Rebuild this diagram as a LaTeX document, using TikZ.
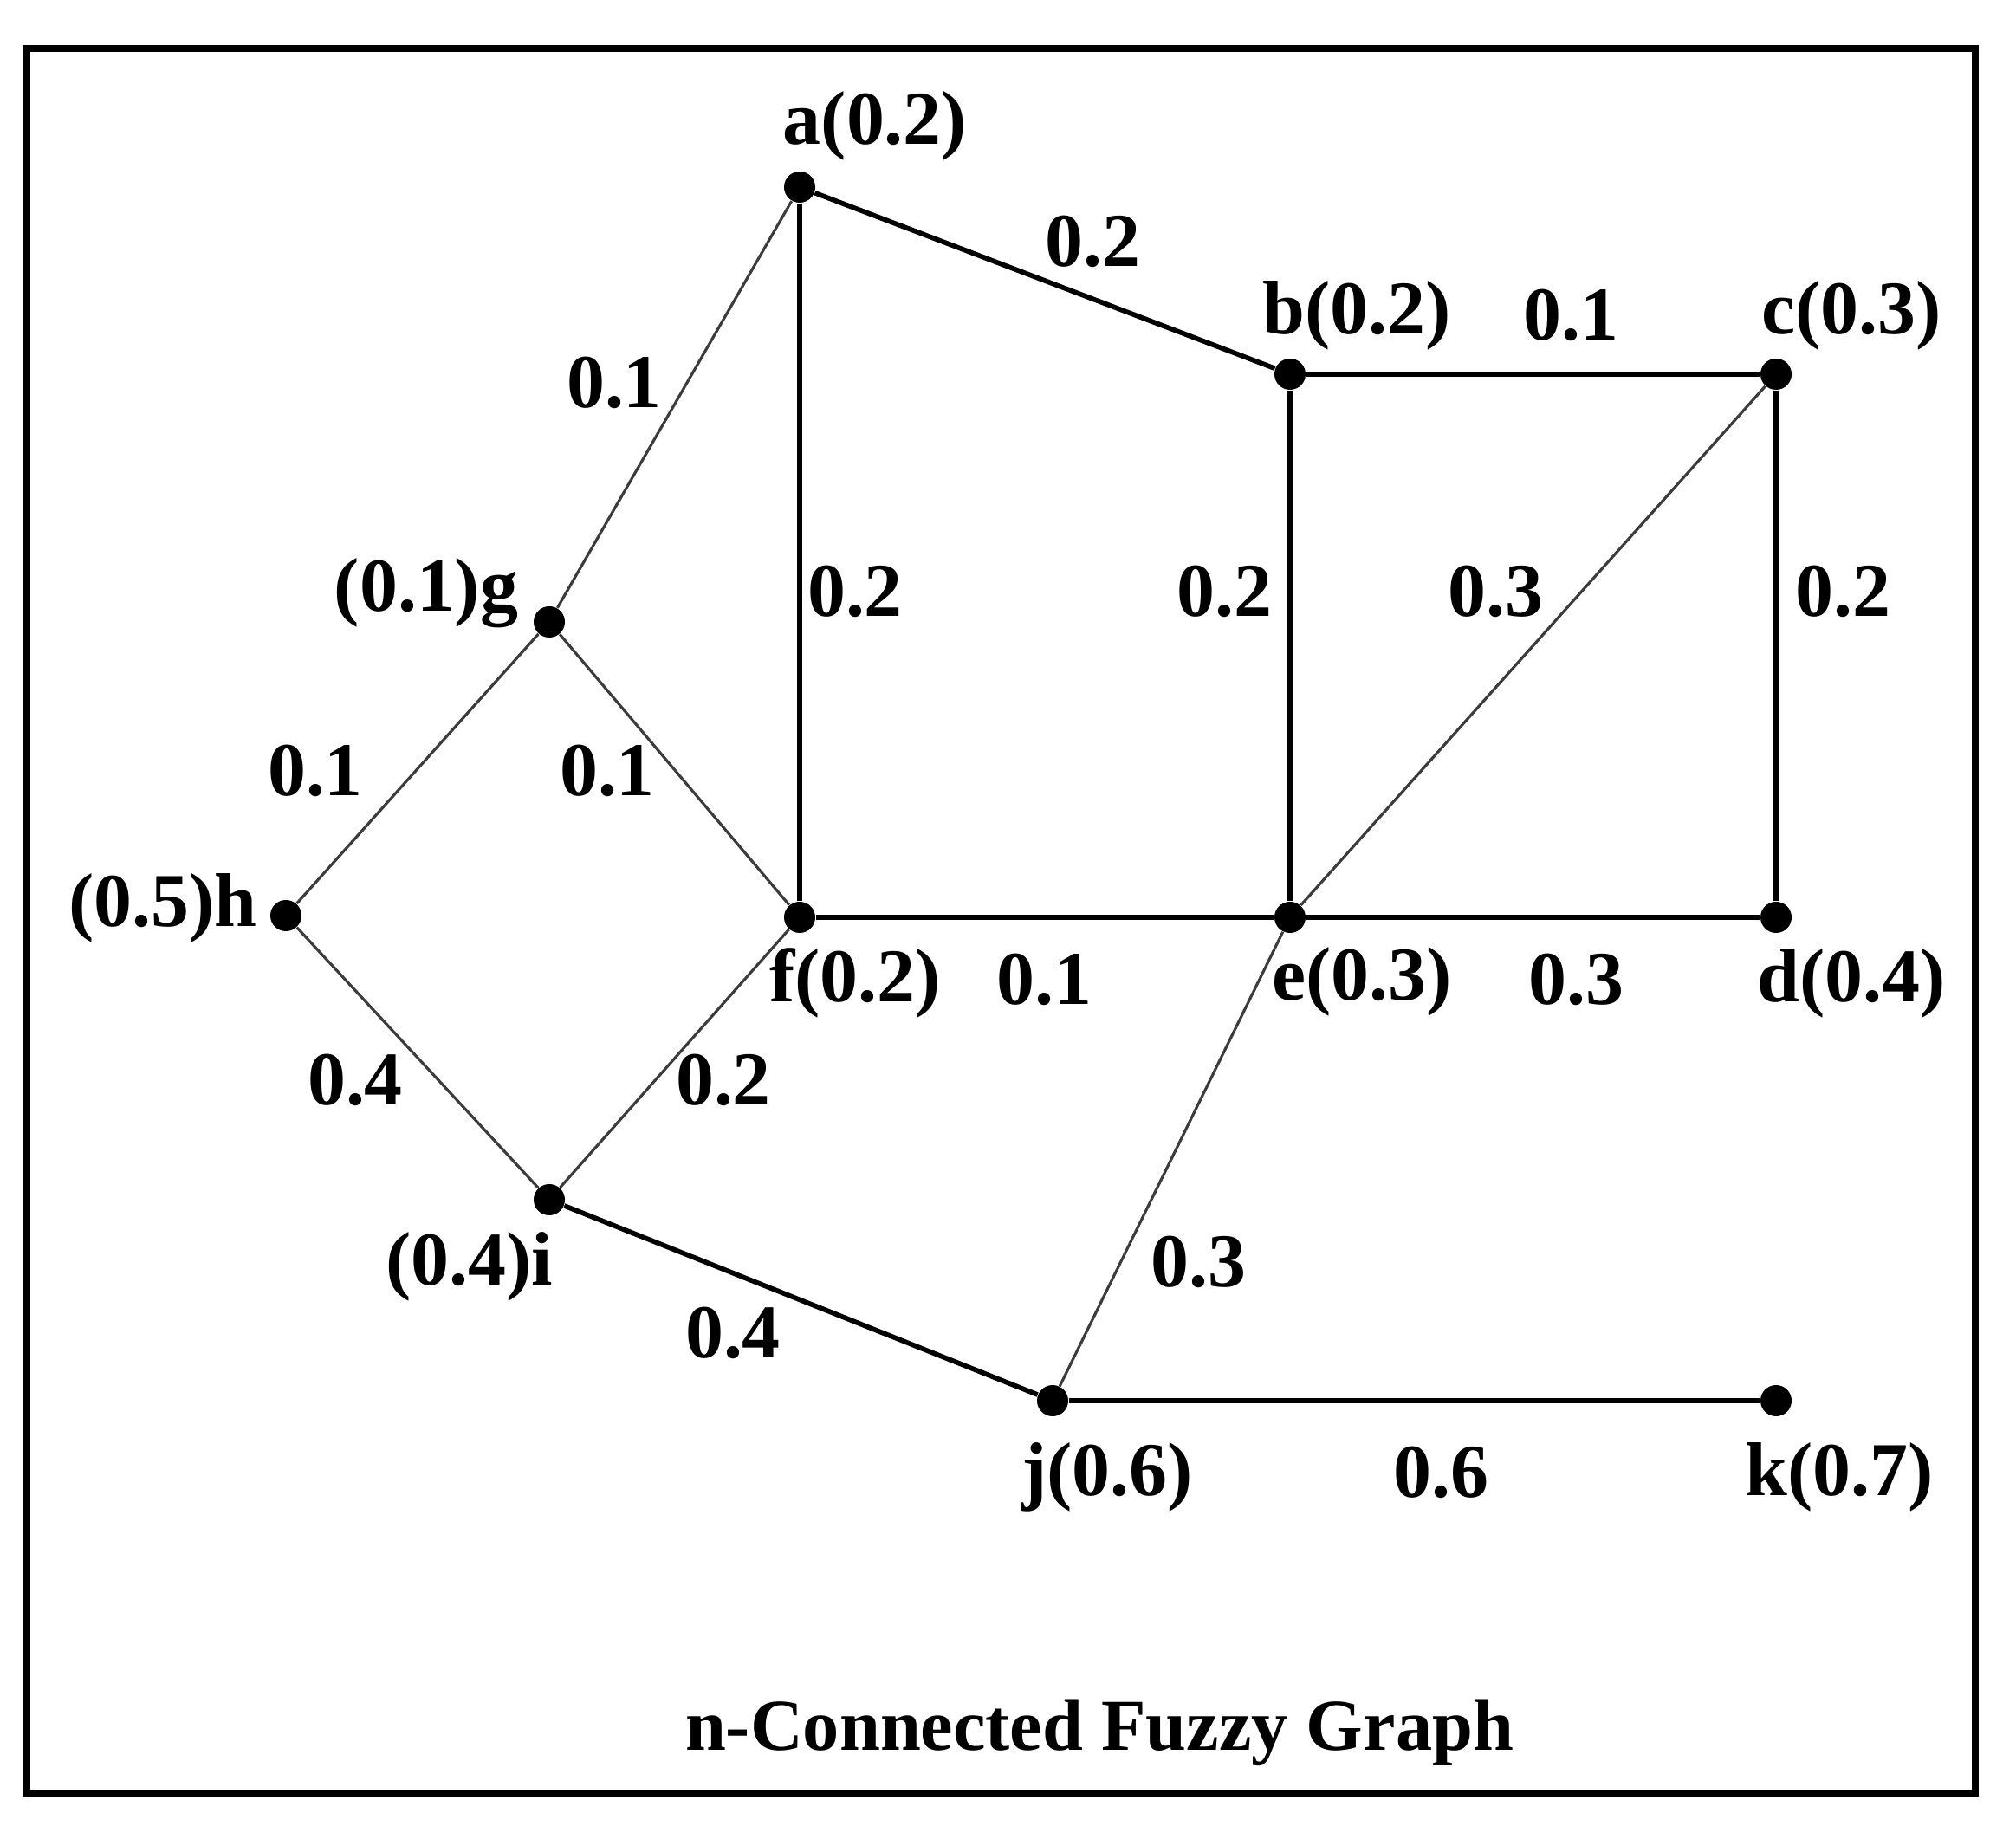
\documentclass[tikz,border=0pt]{standalone}
\usepackage{fontspec}
\setmainfont{Liberation Serif}
\usepackage{tikz}
\usetikzlibrary{positioning}
\definecolor{GraphColor}{RGB}{0,0,0}
\definecolor{ThinColor}{RGB}{60,60,60}
\newcommand{\wtext}[1]{\textbf{#1}}
\tikzstyle{link} = [line width=1.6pt, GraphColor]
\tikzstyle{thin link} = [line width=0.9pt, ThinColor]
\tikzstyle{vertex} = [circle, fill=GraphColor, inner sep=0pt, minimum size=0.36cm]
\tikzset{
  lbl/.style={font=\fontsize{25}{30}\selectfont, inner sep=0pt},
  title/.style={font=\fontsize{24}{30}\selectfont, inner sep=0pt},
  frame/.style={line width=2.3pt, GraphColor}
}
\begin{document}
\begin{tikzpicture}
                \useasboundingbox (0,0) rectangle (23.27,21.07);
                % Frame
                \draw[frame] (0.31,0.37) rectangle (22.80,20.51);

                % Vertices
                \node[vertex] (a) at (9.23,18.91) {};
                \node[vertex] (b) at (14.89,16.75) {};
                \node[vertex] (c) at (20.50,16.75) {};
                \node[vertex] (d) at (20.50,10.48) {};
                \node[vertex] (e) at (14.89,10.48) {};
                \node[vertex] (f) at (9.23,10.48) {};
                \node[vertex] (g) at (6.34,13.89) {};
                \node[vertex] (h) at (3.30,10.50) {};
                \node[vertex] (i) at (6.34,7.22) {};
                \node[vertex] (j) at (12.15,4.90) {};
                \node[vertex] (k) at (20.50,4.90) {};

                % Edges
                \draw[link] (a) -- (b);
                \draw[link] (a) -- (f);
                \draw[link] (b) -- (c);
                \draw[link] (b) -- (e);
                \draw[link] (c) -- (d);
                \draw[link] (f) -- (e);
                \draw[link] (e) -- (d);
                \draw[link] (i) -- (j);
                \draw[link] (j) -- (k);
                \draw[thin link] (a) -- (g);
                \draw[thin link] (g) -- (h);
                \draw[thin link] (g) -- (f);
                \draw[thin link] (h) -- (i);
                \draw[thin link] (i) -- (f);
                \draw[thin link] (c) -- (e);
                \draw[thin link] (j) -- (e);

                % Vertex memberships
                \node[lbl] (la) at (10.10,19.62) {\wtext{a(0.2)}};
                \node[lbl] (lb) at (15.66,17.43) {\wtext{b(0.2)}};
                \node[lbl] (lc) at (21.37,17.43) {\wtext{c(0.3)}};
                \node[lbl] (ld) at (21.37,9.72) {\wtext{d(0.4)}};
                \node[lbl] (le) at (15.72,9.74) {\wtext{e(0.3)}};
                \node[lbl] (lf) at (9.87,9.72) {\wtext{f(0.2)}};
                \node[lbl] (lg) at (4.92,14.22) {\wtext{(0.1)g}};
                \node[lbl] (lh) at (1.88,10.59) {\wtext{(0.5)h}};
                \node[lbl] (li) at (5.42,6.45) {\wtext{(0.4)i}};
                \node[lbl] (lj) at (12.78,4.02) {\wtext{j(0.6)}};
                \node[lbl] (lk) at (21.23,4.02) {\wtext{k(0.7)}};

                % Edge memberships
                \node[lbl] (wab) at (12.61,18.28) {\wtext{0.2}};
                \node[lbl] (wbc) at (18.13,17.43) {\wtext{0.1}};
                \node[lbl] (wag) at (7.09,16.65) {\wtext{0.1}};
                \node[lbl] (waf) at (9.87,14.24) {\wtext{0.2}};
                \node[lbl] (wbe) at (14.13,14.24) {\wtext{0.2}};
                \node[lbl] (wce) at (17.26,14.24) {\wtext{0.3}};
                \node[lbl] (wcd) at (21.27,14.24) {\wtext{0.2}};
                \node[lbl] (wgh) at (3.64,12.17) {\wtext{0.1}};
                \node[lbl] (wgf) at (7.01,12.17) {\wtext{0.1}};
                \node[lbl] (wfe) at (12.05,9.76) {\wtext{0.1}};
                \node[lbl] (wed) at (18.19,9.76) {\wtext{0.3}};
                \node[lbl] (whi) at (4.10,8.60) {\wtext{0.4}};
                \node[lbl] (wif) at (8.35,8.60) {\wtext{0.2}};
                \node[lbl] (wje) at (13.83,6.50) {\wtext{0.3}};
                \node[lbl] (wij) at (8.46,5.68) {\wtext{0.4}};
                \node[lbl] (wjk) at (16.63,4.07) {\wtext{0.6}};

                % Caption
                \node[title] (cap) at (12.69,1.07) {\wtext{n-Connected Fuzzy Graph}};
            \end{tikzpicture}
\end{document}
